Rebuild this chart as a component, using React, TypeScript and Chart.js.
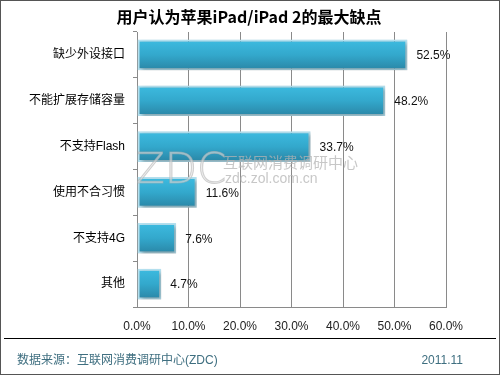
import React, { useEffect, useRef } from "react";
import { Chart, registerables } from "chart.js";

Chart.register(...registerables);

const title = "用户认为苹果iPad/iPad 2的最大缺点";
const categories = ["缺少外设接口", "不能扩展存储容量", "不支持Flash", "使用不合习惯", "不支持4G", "其他"];
const values = [52.5, 48.2, 33.7, 11.6, 7.6, 4.7];
const xTicks = [0, 10, 20, 30, 40, 50, 60];
const sourceText = "数据来源：互联网消费调研中心(ZDC)";
const dateText = "2011.11";

const FONT = '"Liberation Sans", "Noto Sans CJK SC", sans-serif';

export default function App() {
  const ref = useRef<HTMLCanvasElement | null>(null);

  useEffect(() => {
    const canvas = ref.current;
    if (!canvas) return;

    const decor = {
      id: "decor",
      beforeDraw(chart: any) {
        const ctx = chart.ctx;
        ctx.save();
        ctx.fillStyle = "#ffffff";
        ctx.fillRect(0, 0, 500, 375);
        ctx.restore();
      },
      beforeDatasetsDraw(chart: any) {
        const ctx = chart.ctx;
        ctx.save();
        ctx.shadowColor = "rgba(0,0,0,0.3)";
        ctx.shadowOffsetX = 2;
        ctx.shadowOffsetY = 2;
        ctx.shadowBlur = 4;
      },
      afterDatasetsDraw(chart: any) {
        const ctx = chart.ctx;
        ctx.restore();
        // watermark
        ctx.save();
        ctx.textBaseline = "alphabetic";
        ctx.textAlign = "left";
        ctx.fillStyle = "rgba(225,225,225,0.6)";
        ctx.strokeStyle = "rgba(175,175,175,0.55)";
        ctx.lineWidth = 1;
        ctx.font = '200 42px "DejaVu Sans", sans-serif';
        ctx.fillText("ZDC", 136, 183);
        ctx.strokeText("ZDC", 136, 183);
        ctx.font = '15px "Noto Sans CJK SC", sans-serif';
        ctx.fillStyle = "rgba(180,180,180,0.75)";
        ctx.fillText("互联网消费调研中心", 223, 168);
        ctx.font = '14px "Liberation Sans", sans-serif';
        ctx.fillText("zdc.zol.com.cn", 225, 183);
        ctx.restore();
        // data labels
        const meta = chart.getDatasetMeta(0);
        ctx.save();
        ctx.fillStyle = "#111";
        ctx.font = "12px " + FONT;
        ctx.textBaseline = "middle";
        ctx.textAlign = "left";
        meta.data.forEach((bar: any, i: number) => {
          ctx.fillText(values[i].toFixed(1) + "%", bar.x + 9, bar.y + 1);
        });
        ctx.restore();
      },
      afterDraw(chart: any) {
        const ctx = chart.ctx;
        ctx.save();
        ctx.fillStyle = "#000";
        ctx.font = 'bold 16px "Noto Sans CJK SC", "Liberation Sans", sans-serif';
        ctx.textAlign = "center";
        ctx.textBaseline = "middle";
        ctx.fillText(title, 249, 17);
        ctx.strokeStyle = "#000";
        ctx.lineWidth = 1;
        ctx.beginPath();
        ctx.moveTo(4, 338.5);
        ctx.lineTo(496, 338.5);
        ctx.stroke();
        ctx.fillStyle = "#3f6f80";
        ctx.font = "12px " + FONT;
        ctx.textAlign = "left";
        ctx.fillText(sourceText, 17, 361);
        ctx.textAlign = "right";
        ctx.fillText(dateText, 463, 361);
        ctx.strokeStyle = "#555";
        ctx.strokeRect(0.5, 0.5, 499, 374);
        ctx.restore();
      },
    };

    const chart = new Chart(canvas, {
      type: "bar",
      data: {
        labels: categories,
        datasets: [
          {
            data: values,
            backgroundColor: (c: any) => {
              const ch = c.chart;
              const y = ch.scales && ch.scales.y;
              if (!ch.chartArea || !y || c.dataIndex === undefined) return "#34a9cc";
              const cy = y.getPixelForValue(c.dataIndex);
              const g = ch.ctx.createLinearGradient(0, cy - 15, 0, cy + 15);
              g.addColorStop(0, "#3dbbe0");
              g.addColorStop(0.5, "#33a8cc");
              g.addColorStop(1, "#2a86a6");
              return g;
            },
            borderColor: "#b5e2f1",
            borderWidth: 2,
            borderSkipped: false,
            barPercentage: 0.67,
            categoryPercentage: 1,
          },
        ],
      },
      options: {
        indexAxis: "y",
        responsive: false,
        animation: false,
        devicePixelRatio: 1,
        layout: { padding: { left: 0, right: 54, top: 32, bottom: 38 } },
        plugins: {
          legend: { display: false },
          title: { display: false },
          tooltip: { enabled: false },
        },
        scales: {
          x: {
            min: 0,
            max: 60,
            afterFit: (s: any) => {
              s.height = 30;
            },
            afterBuildTicks: (s: any) => {
              s.ticks = xTicks.map((v) => ({ value: v }));
            },
            ticks: {
              color: "#222",
              font: { family: FONT, size: 12 },
              padding: 12,
              maxRotation: 0,
              callback: (v: any) => Number(v).toFixed(1) + "%",
            },
            grid: { color: "#8a8a8a", drawTicks: false, lineWidth: 1 },
            border: { color: "#8a8a8a" },
          },
          y: {
            afterFit: (s: any) => {
              s.width = 137;
            },
            ticks: {
              color: "#000",
              font: { family: FONT, size: 12 },
              padding: 8,
            },
            grid: { drawOnChartArea: false, color: "#8a8a8a", tickLength: 4, offset: true },
            border: { color: "#8a8a8a" },
          },
        },
      },
      plugins: [decor],
    } as any);

    return () => chart.destroy();
  }, []);

  return (
    <div style={{ position: "fixed", left: 0, top: 0, width: 500, height: 375 }}>
      <canvas ref={ref} width={500} height={375} style={{ display: "block" }} />
    </div>
  );
}
